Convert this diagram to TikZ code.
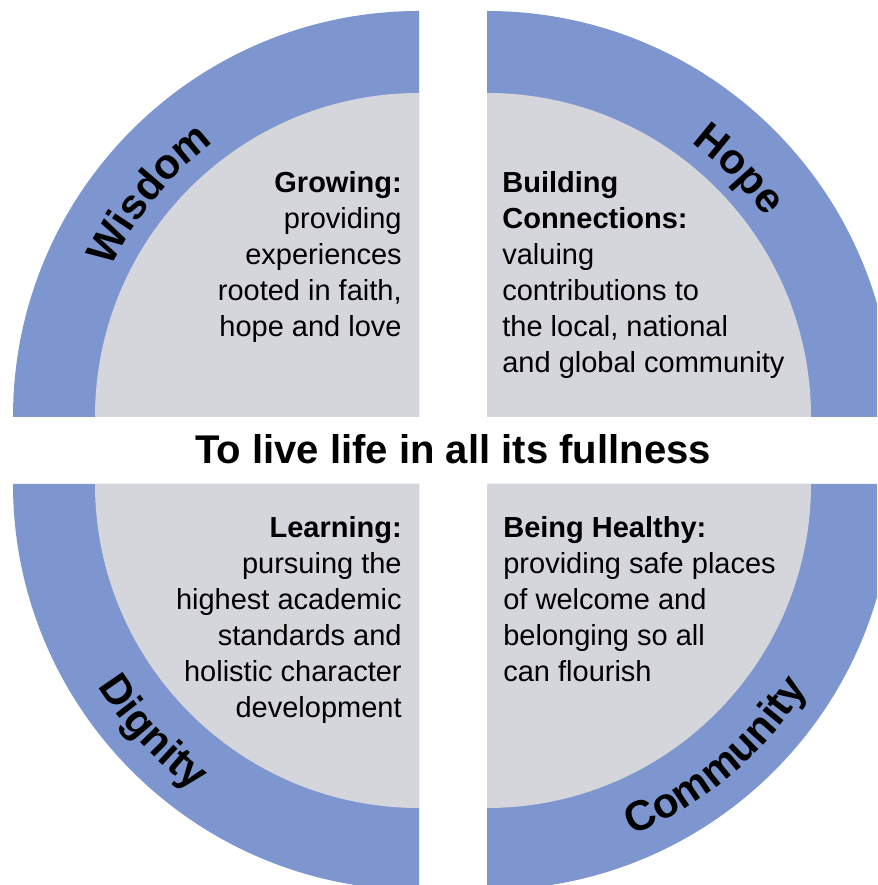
\documentclass[tikz,border=0pt]{standalone}
\usepackage{fontspec}
\setmainfont{Liberation Sans}
\usetikzlibrary{decorations.text}
\definecolor{ringblue}{HTML}{7E96CF}
\definecolor{innergray}{HTML}{D5D5DC}
\newcommand{\ringfont}{\fontsize{24}{24}\selectfont\bfseries}
\newcommand{\blocfont}{\fontsize{16.5}{20.5}\selectfont}
\tikzset{
  quartertext/.style={inner sep=0pt, font=\blocfont},
  ringlabel/.style={decorate, decoration={text along path, text align=center,
      text color=black, text={|\ringfont|#1}}},
}

\begin{document}
\begin{tikzpicture}
  \useasboundingbox (0,0) rectangle (17.54,17.7);
  \clip (0,0) rectangle (17.54,17.7);
  % inner corners of the four quarters
  \coordinate (tl) at (8.38,9.36);
  \coordinate (tr) at (9.74,9.36);
  \coordinate (bl) at (8.38,8.02);
  \coordinate (br) at (9.74,8.02);
  \foreach \c/\a in {tl/90, tr/0, bl/180, br/270}{
    \fill[ringblue] (\c) -- ++(\a:8.12) arc[start angle=\a, end angle=\a+90, radius=8.12] -- cycle;
    \fill[innergray] (\c) -- ++(\a:6.48) arc[start angle=\a, end angle=\a+90, radius=6.48] -- cycle;
  }
  % words on the ring
  \path[ringlabel=Wisdom] (tl) ++(180.5:6.85) arc[start angle=180.5, end angle=100.5, radius=6.85];
  \path[ringlabel=Hope] (tr) ++(84.5:6.85) arc[start angle=84.5, end angle=4.5, radius=6.85];
  \path[ringlabel=Dignity] (bl) ++(183:7.6) arc[start angle=183, end angle=263, radius=7.6];
  \path[ringlabel=Community] (br) ++(-90:7.6) arc[start angle=-90, end angle=-10, radius=7.6];

  \node[font=\fontsize{22.8}{24}\selectfont\bfseries, anchor=base] (motto) at (9.06,8.42) {To live life in all its fullness};

  \node[quartertext, anchor=north east, align=right] (growing) at (8.04,14.28)
    {\textbf{Growing:}\\ providing\\ experiences\\ rooted in faith,\\ hope and love};
  \node[quartertext, anchor=north west, align=left] (building) at (10.04,14.28)
    {\textbf{Building}\\ \textbf{Connections:}\\ valuing\\ contributions to\\ the local, national\\ and global community};
  \node[quartertext, anchor=north east, align=right] (learning) at (8.04,7.38)
    {\textbf{Learning:}\\ pursuing the\\ highest academic\\ standards and\\ holistic character\\ development};
  \node[quartertext, anchor=north west, align=left] (healthy) at (10.06,7.38)
    {\textbf{Being Healthy:}\\ providing safe places\\ of welcome and\\ belonging so all\\ can flourish};
\end{tikzpicture}
\end{document}
